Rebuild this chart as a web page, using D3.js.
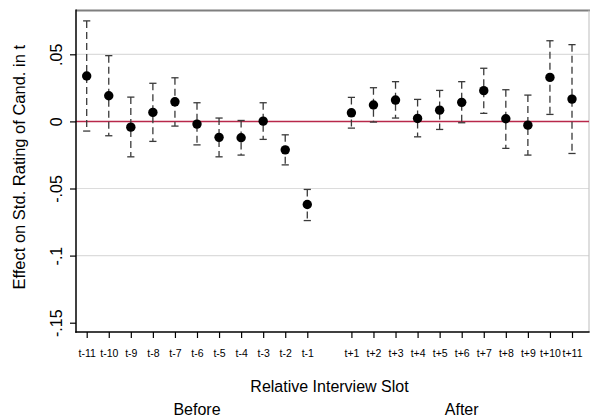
<!DOCTYPE html>
<html>
<head>
<meta charset="utf-8">
<script src="https://cdn.jsdelivr.net/npm/d3@7"></script>
<style>
html,body{margin:0;padding:0;background:#fff;}
svg{display:block;font-family:"Liberation Sans",Arial,Helvetica,sans-serif;}
</style>
</head>
<body>
<svg id="chart" width="590" height="416"></svg>
<script>
// ---- data ----
const slotLabels = ["t-11","t-10","t-9","t-8","t-7","t-6","t-5","t-4","t-3","t-2","t-1",
                    "t+1","t+2","t+3","t+4","t+5","t+6","t+7","t+8","t+9","t+10","t+11"];
const slotPos = [-11,-10,-9,-8,-7,-6,-5,-4,-3,-2,-1,1,2,3,4,5,6,7,8,9,10,11];
const estimates = [0.0338,0.0191,-0.0043,0.0067,0.0146,-0.0020,-0.0119,-0.0122,0.0002,-0.0212,-0.0619,
                   0.0064,0.0122,0.0159,0.0022,0.0084,0.0142,0.0229,0.0020,-0.0028,0.0328,0.0166];
const upperCI = [0.0749,0.0490,0.0181,0.0284,0.0325,0.0139,0.0025,0.0007,0.0139,-0.0100,-0.0507,
                 0.0179,0.0251,0.0296,0.0164,0.0231,0.0296,0.0396,0.0236,0.0196,0.0601,0.0572];
const lowerCI = [-0.0072,-0.0107,-0.0264,-0.0149,-0.0035,-0.0175,-0.0264,-0.0251,-0.0134,-0.0324,-0.0739,
                 -0.0050,-0.0005,0.0025,-0.0115,-0.0060,-0.0010,0.0060,-0.0201,-0.0251,0.0052,-0.0239];
const yTickValues = [0.05, 0, -0.05, -0.1, -0.15];
const yTickLabels = [".05", "0", "-.05", "-.1", "-.15"];
const gridValues = [0.05, -0.05, -0.1];
const groupLabels = ["Before", "After"];
const groupCenters = [-6, 6];
const yTitle = "Effect on Std. Rating of Cand. in t";
const xTitle = "Relative Interview Slot";

// ---- layout ----
const svg = d3.select("#chart");
const frame = {left: 76, right: 589, top: 10.5, bottom: 332};
const x = d3.scaleLinear().domain([-11, 11]).range([86.7, 572]);
const y = d3.scaleLinear().domain([-0.15, 0.05]).range([322.7, 54.3]);

const data = slotPos.map((p, i) => ({pos: p, label: slotLabels[i], est: estimates[i], lo: lowerCI[i], hi: upperCI[i]}));

// gridlines
svg.append("g").selectAll("line").data(gridValues).join("line")
  .attr("x1", frame.left).attr("x2", frame.right)
  .attr("y1", d => y(d)).attr("y2", d => y(d))
  .attr("stroke", "#dcdcdc").attr("stroke-width", 1.2);

// frame top and right
svg.append("line").attr("x1", frame.left).attr("x2", frame.right + 1)
  .attr("y1", frame.top).attr("y2", frame.top)
  .attr("stroke", "#7f7f7f").attr("stroke-width", 2);
svg.append("line").attr("x1", frame.right).attr("x2", frame.right)
  .attr("y1", frame.top).attr("y2", frame.bottom)
  .attr("stroke", "#c8c8c8").attr("stroke-width", 1.2);

// zero line
svg.append("line").attr("x1", frame.left).attr("x2", frame.right)
  .attr("y1", y(0)).attr("y2", y(0))
  .attr("stroke", "#b8284a").attr("stroke-width", 1.5);

// y axis
const yAxis = d3.axisLeft(y).tickValues(yTickValues)
  .tickFormat((d, i) => yTickLabels[i]).tickSize(6).tickPadding(3);
const gy = svg.append("g").attr("transform", `translate(${frame.left},0)`).call(yAxis);
gy.select(".domain").remove();
gy.selectAll(".tick line").attr("stroke", "#000").attr("stroke-width", 1.2);
gy.selectAll(".tick text")
  .attr("font-size", 16).attr("fill", "#000")
  .attr("transform", d => `rotate(-90) `)
  .attr("x", d => -y(d)).attr("y", 0)
  .attr("dy", 0)
  .attr("text-anchor", "middle");
// position rotated labels: place baseline at x = -14 relative to axis
gy.selectAll(".tick").each(function(d) {
  const g = d3.select(this);
  g.select("text")
    .attr("transform", "rotate(-90)")
    .attr("x", 0).attr("y", -14);
});

// x axis
const xAxis = d3.axisBottom(x).tickValues(slotPos)
  .tickFormat((d, i) => slotLabels[i]).tickSize(6).tickPadding(4);
const gx = svg.append("g").attr("transform", `translate(0,${frame.bottom})`).call(xAxis);
gx.select(".domain").remove();
gx.selectAll(".tick line").attr("stroke", "#000").attr("stroke-width", 1.2);
gx.selectAll(".tick text").attr("font-size", 10.5).attr("fill", "#000")
  .attr("y", 24.5).attr("dy", 0);

// axis lines
svg.append("line").attr("x1", frame.left).attr("x2", frame.left)
  .attr("y1", frame.top - 1).attr("y2", frame.bottom + 0.75)
  .attr("stroke", "#000").attr("stroke-width", 1.5);
svg.append("line").attr("x1", frame.left - 0.75).attr("x2", frame.right + 0.6)
  .attr("y1", frame.bottom).attr("y2", frame.bottom)
  .attr("stroke", "#000").attr("stroke-width", 1.5);

// error bars
const bars = svg.append("g");
bars.selectAll("line.ci").data(data).join("line")
  .attr("class", "ci")
  .attr("x1", d => x(d.pos)).attr("x2", d => x(d.pos))
  .attr("y1", d => y(d.hi)).attr("y2", d => y(d.lo))
  .attr("stroke", "#3a3a3a").attr("stroke-width", 1.3)
  .attr("stroke-dasharray", "7,4");
bars.selectAll("line.capHi").data(data).join("line")
  .attr("class", "capHi")
  .attr("x1", d => x(d.pos) - 3.6).attr("x2", d => x(d.pos) + 3.6)
  .attr("y1", d => y(d.hi)).attr("y2", d => y(d.hi))
  .attr("stroke", "#3a3a3a").attr("stroke-width", 1.3);
bars.selectAll("line.capLo").data(data).join("line")
  .attr("class", "capLo")
  .attr("x1", d => x(d.pos) - 3.6).attr("x2", d => x(d.pos) + 3.6)
  .attr("y1", d => y(d.lo)).attr("y2", d => y(d.lo))
  .attr("stroke", "#3a3a3a").attr("stroke-width", 1.3);

// points
svg.append("g").selectAll("circle").data(data).join("circle")
  .attr("cx", d => x(d.pos)).attr("cy", d => y(d.est)).attr("r", 4.7)
  .attr("fill", "#000");

// titles
svg.append("text").attr("x", (frame.left + frame.right) / 2 - 3).attr("y", 392)
  .attr("text-anchor", "middle").attr("font-size", 16).attr("fill", "#000")
  .text(xTitle);
svg.selectAll("text.group").data(groupLabels).join("text")
  .attr("class", "group")
  .attr("x", (d, i) => x(groupCenters[i])).attr("y", 414.5)
  .attr("text-anchor", "middle").attr("font-size", 16).attr("fill", "#000")
  .text(d => d);
svg.append("text")
  .attr("transform", `translate(25,${(frame.top + frame.bottom) / 2 - 4}) rotate(-90)`)
  .attr("text-anchor", "middle").attr("font-size", 16.5).attr("fill", "#000")
  .text(yTitle);
</script>
</body>
</html>
